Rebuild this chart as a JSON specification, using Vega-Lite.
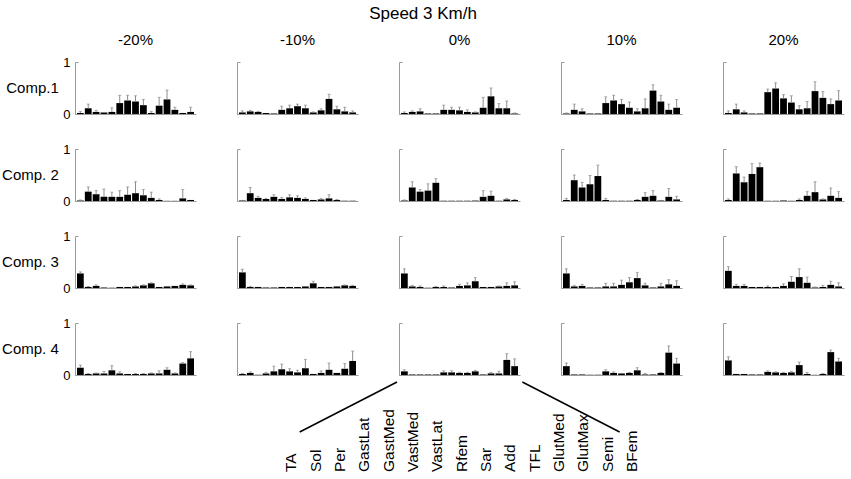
{
  "$schema": "https://vega.github.io/schema/vega-lite/v6.json",
  "padding": {"left": 2, "top": 5, "right": 2, "bottom": 2},
  "title": {"text": "Speed 3 Km/h", "fontSize": 17, "fontWeight": "normal", "anchor": "middle", "offset": 10, "color": "black"},
  "datasets": {
    "bars": [
      {"c":"Comp.1","k":"-20%","m":"TA","v":0.02,"h":0.05},{"c":"Comp.1","k":"-20%","m":"Sol","v":0.11,"h":0.19},{"c":"Comp.1","k":"-20%","m":"Per","v":0.04,"h":0.07},{"c":"Comp.1","k":"-20%","m":"GastLat","v":0.03,"h":0.03},{"c":"Comp.1","k":"-20%","m":"GastMed","v":0.04,"h":0.12},{"c":"Comp.1","k":"-20%","m":"VastMed","v":0.21,"h":0.36},{"c":"Comp.1","k":"-20%","m":"VastLat","v":0.26,"h":0.36},{"c":"Comp.1","k":"-20%","m":"Rfem","v":0.24,"h":0.35},{"c":"Comp.1","k":"-20%","m":"Sar","v":0.17,"h":0.28},{"c":"Comp.1","k":"-20%","m":"Add","v":0.02,"h":0.05},{"c":"Comp.1","k":"-20%","m":"TFL","v":0.16,"h":0.32},{"c":"Comp.1","k":"-20%","m":"GlutMed","v":0.28,"h":0.46},{"c":"Comp.1","k":"-20%","m":"GlutMax","v":0.08,"h":0.13},{"c":"Comp.1","k":"-20%","m":"Semi","v":0.02,"h":0.02},{"c":"Comp.1","k":"-20%","m":"BFem","v":0.04,"h":0.13},
      {"c":"Comp.1","k":"-10%","m":"TA","v":0.03,"h":0.06},{"c":"Comp.1","k":"-10%","m":"Sol","v":0.05,"h":0.07},{"c":"Comp.1","k":"-10%","m":"Per","v":0.04,"h":0.05},{"c":"Comp.1","k":"-10%","m":"GastLat","v":0.02,"h":0.02},{"c":"Comp.1","k":"-10%","m":"GastMed","v":0.01,"h":0.01},{"c":"Comp.1","k":"-10%","m":"VastMed","v":0.08,"h":0.15},{"c":"Comp.1","k":"-10%","m":"VastLat","v":0.11,"h":0.17},{"c":"Comp.1","k":"-10%","m":"Rfem","v":0.15,"h":0.19},{"c":"Comp.1","k":"-10%","m":"Sar","v":0.11,"h":0.17},{"c":"Comp.1","k":"-10%","m":"Add","v":0.03,"h":0.04},{"c":"Comp.1","k":"-10%","m":"TFL","v":0.07,"h":0.1},{"c":"Comp.1","k":"-10%","m":"GlutMed","v":0.29,"h":0.38},{"c":"Comp.1","k":"-10%","m":"GlutMax","v":0.09,"h":0.15},{"c":"Comp.1","k":"-10%","m":"Semi","v":0.05,"h":0.13},{"c":"Comp.1","k":"-10%","m":"BFem","v":0.03,"h":0.06},
      {"c":"Comp.1","k":"0%","m":"TA","v":0.02,"h":0.04},{"c":"Comp.1","k":"0%","m":"Sol","v":0.04,"h":0.06},{"c":"Comp.1","k":"0%","m":"Per","v":0.05,"h":0.1},{"c":"Comp.1","k":"0%","m":"GastLat","v":0.01,"h":0.01},{"c":"Comp.1","k":"0%","m":"GastMed","v":0.01,"h":0.01},{"c":"Comp.1","k":"0%","m":"VastMed","v":0.08,"h":0.17},{"c":"Comp.1","k":"0%","m":"VastLat","v":0.08,"h":0.13},{"c":"Comp.1","k":"0%","m":"Rfem","v":0.07,"h":0.13},{"c":"Comp.1","k":"0%","m":"Sar","v":0.04,"h":0.08},{"c":"Comp.1","k":"0%","m":"Add","v":0.03,"h":0.04},{"c":"Comp.1","k":"0%","m":"TFL","v":0.12,"h":0.32},{"c":"Comp.1","k":"0%","m":"GlutMed","v":0.34,"h":0.5},{"c":"Comp.1","k":"0%","m":"GlutMax","v":0.11,"h":0.2},{"c":"Comp.1","k":"0%","m":"Semi","v":0.11,"h":0.25},{"c":"Comp.1","k":"0%","m":"BFem","v":0.01,"h":0.02},
      {"c":"Comp.1","k":"10%","m":"TA","v":0.01,"h":0.02},{"c":"Comp.1","k":"10%","m":"Sol","v":0.08,"h":0.19},{"c":"Comp.1","k":"10%","m":"Per","v":0.05,"h":0.1},{"c":"Comp.1","k":"10%","m":"GastLat","v":0.01,"h":0.01},{"c":"Comp.1","k":"10%","m":"GastMed","v":0.01,"h":0.01},{"c":"Comp.1","k":"10%","m":"VastMed","v":0.21,"h":0.33},{"c":"Comp.1","k":"10%","m":"VastLat","v":0.26,"h":0.36},{"c":"Comp.1","k":"10%","m":"Rfem","v":0.19,"h":0.28},{"c":"Comp.1","k":"10%","m":"Sar","v":0.12,"h":0.23},{"c":"Comp.1","k":"10%","m":"Add","v":0.05,"h":0.1},{"c":"Comp.1","k":"10%","m":"TFL","v":0.11,"h":0.29},{"c":"Comp.1","k":"10%","m":"GlutMed","v":0.45,"h":0.56},{"c":"Comp.1","k":"10%","m":"GlutMax","v":0.24,"h":0.36},{"c":"Comp.1","k":"10%","m":"Semi","v":0.08,"h":0.19},{"c":"Comp.1","k":"10%","m":"BFem","v":0.12,"h":0.28},
      {"c":"Comp.1","k":"20%","m":"TA","v":0.02,"h":0.06},{"c":"Comp.1","k":"20%","m":"Sol","v":0.09,"h":0.19},{"c":"Comp.1","k":"20%","m":"Per","v":0.03,"h":0.06},{"c":"Comp.1","k":"20%","m":"GastLat","v":0.01,"h":0.01},{"c":"Comp.1","k":"20%","m":"GastMed","v":0.01,"h":0.01},{"c":"Comp.1","k":"20%","m":"VastMed","v":0.42,"h":0.48},{"c":"Comp.1","k":"20%","m":"VastLat","v":0.49,"h":0.6},{"c":"Comp.1","k":"20%","m":"Rfem","v":0.3,"h":0.37},{"c":"Comp.1","k":"20%","m":"Sar","v":0.22,"h":0.35},{"c":"Comp.1","k":"20%","m":"Add","v":0.09,"h":0.16},{"c":"Comp.1","k":"20%","m":"TFL","v":0.11,"h":0.24},{"c":"Comp.1","k":"20%","m":"GlutMed","v":0.44,"h":0.62},{"c":"Comp.1","k":"20%","m":"GlutMax","v":0.31,"h":0.43},{"c":"Comp.1","k":"20%","m":"Semi","v":0.19,"h":0.29},{"c":"Comp.1","k":"20%","m":"BFem","v":0.26,"h":0.45},
      {"c":"Comp. 2","k":"-20%","m":"TA","v":0.01,"h":0.02},{"c":"Comp. 2","k":"-20%","m":"Sol","v":0.18,"h":0.27},{"c":"Comp. 2","k":"-20%","m":"Per","v":0.13,"h":0.2},{"c":"Comp. 2","k":"-20%","m":"GastLat","v":0.08,"h":0.23},{"c":"Comp. 2","k":"-20%","m":"GastMed","v":0.08,"h":0.17},{"c":"Comp. 2","k":"-20%","m":"VastMed","v":0.08,"h":0.2},{"c":"Comp. 2","k":"-20%","m":"VastLat","v":0.12,"h":0.27},{"c":"Comp. 2","k":"-20%","m":"Rfem","v":0.15,"h":0.37},{"c":"Comp. 2","k":"-20%","m":"Sar","v":0.11,"h":0.22},{"c":"Comp. 2","k":"-20%","m":"Add","v":0.06,"h":0.17},{"c":"Comp. 2","k":"-20%","m":"TFL","v":0.02,"h":0.04},{"c":"Comp. 2","k":"-20%","m":"GlutMed","v":0.003,"h":0.003},{"c":"Comp. 2","k":"-20%","m":"GlutMax","v":0.003,"h":0.003},{"c":"Comp. 2","k":"-20%","m":"Semi","v":0.05,"h":0.22},{"c":"Comp. 2","k":"-20%","m":"BFem","v":0.02,"h":0.02},
      {"c":"Comp. 2","k":"-10%","m":"TA","v":0.01,"h":0.01},{"c":"Comp. 2","k":"-10%","m":"Sol","v":0.15,"h":0.26},{"c":"Comp. 2","k":"-10%","m":"Per","v":0.06,"h":0.09},{"c":"Comp. 2","k":"-10%","m":"GastLat","v":0.04,"h":0.05},{"c":"Comp. 2","k":"-10%","m":"GastMed","v":0.08,"h":0.12},{"c":"Comp. 2","k":"-10%","m":"VastMed","v":0.04,"h":0.07},{"c":"Comp. 2","k":"-10%","m":"VastLat","v":0.07,"h":0.12},{"c":"Comp. 2","k":"-10%","m":"Rfem","v":0.06,"h":0.1},{"c":"Comp. 2","k":"-10%","m":"Sar","v":0.04,"h":0.06},{"c":"Comp. 2","k":"-10%","m":"Add","v":0.02,"h":0.02},{"c":"Comp. 2","k":"-10%","m":"TFL","v":0.03,"h":0.05},{"c":"Comp. 2","k":"-10%","m":"GlutMed","v":0.05,"h":0.12},{"c":"Comp. 2","k":"-10%","m":"GlutMax","v":0.02,"h":0.03},{"c":"Comp. 2","k":"-10%","m":"Semi","v":0.005,"h":0.005},{"c":"Comp. 2","k":"-10%","m":"BFem","v":0.005,"h":0.005},
      {"c":"Comp. 2","k":"0%","m":"TA","v":0.01,"h":0.02},{"c":"Comp. 2","k":"0%","m":"Sol","v":0.26,"h":0.37},{"c":"Comp. 2","k":"0%","m":"Per","v":0.18,"h":0.22},{"c":"Comp. 2","k":"0%","m":"GastLat","v":0.2,"h":0.33},{"c":"Comp. 2","k":"0%","m":"GastMed","v":0.35,"h":0.43},{"c":"Comp. 2","k":"0%","m":"VastMed","v":0.005,"h":0.005},{"c":"Comp. 2","k":"0%","m":"VastLat","v":0.005,"h":0.005},{"c":"Comp. 2","k":"0%","m":"Rfem","v":0.005,"h":0.005},{"c":"Comp. 2","k":"0%","m":"Sar","v":0.005,"h":0.005},{"c":"Comp. 2","k":"0%","m":"Add","v":0.008,"h":0.008},{"c":"Comp. 2","k":"0%","m":"TFL","v":0.08,"h":0.2},{"c":"Comp. 2","k":"0%","m":"GlutMed","v":0.1,"h":0.19},{"c":"Comp. 2","k":"0%","m":"GlutMax","v":0.005,"h":0.005},{"c":"Comp. 2","k":"0%","m":"Semi","v":0.03,"h":0.05},{"c":"Comp. 2","k":"0%","m":"BFem","v":0.02,"h":0.03},
      {"c":"Comp. 2","k":"10%","m":"TA","v":0.02,"h":0.05},{"c":"Comp. 2","k":"10%","m":"Sol","v":0.4,"h":0.5},{"c":"Comp. 2","k":"10%","m":"Per","v":0.26,"h":0.36},{"c":"Comp. 2","k":"10%","m":"GastLat","v":0.32,"h":0.49},{"c":"Comp. 2","k":"10%","m":"GastMed","v":0.48,"h":0.69},{"c":"Comp. 2","k":"10%","m":"VastMed","v":0.02,"h":0.05},{"c":"Comp. 2","k":"10%","m":"VastLat","v":0.005,"h":0.005},{"c":"Comp. 2","k":"10%","m":"Rfem","v":0.005,"h":0.005},{"c":"Comp. 2","k":"10%","m":"Sar","v":0.005,"h":0.005},{"c":"Comp. 2","k":"10%","m":"Add","v":0.02,"h":0.03},{"c":"Comp. 2","k":"10%","m":"TFL","v":0.08,"h":0.16},{"c":"Comp. 2","k":"10%","m":"GlutMed","v":0.1,"h":0.2},{"c":"Comp. 2","k":"10%","m":"GlutMax","v":0.01,"h":0.01},{"c":"Comp. 2","k":"10%","m":"Semi","v":0.08,"h":0.24},{"c":"Comp. 2","k":"10%","m":"BFem","v":0.03,"h":0.09},
      {"c":"Comp. 2","k":"20%","m":"TA","v":0.02,"h":0.04},{"c":"Comp. 2","k":"20%","m":"Sol","v":0.53,"h":0.66},{"c":"Comp. 2","k":"20%","m":"Per","v":0.36,"h":0.46},{"c":"Comp. 2","k":"20%","m":"GastLat","v":0.52,"h":0.72},{"c":"Comp. 2","k":"20%","m":"GastMed","v":0.65,"h":0.73},{"c":"Comp. 2","k":"20%","m":"VastMed","v":0.004,"h":0.004},{"c":"Comp. 2","k":"20%","m":"VastLat","v":0.004,"h":0.004},{"c":"Comp. 2","k":"20%","m":"Rfem","v":0.01,"h":0.01},{"c":"Comp. 2","k":"20%","m":"Sar","v":0.004,"h":0.004},{"c":"Comp. 2","k":"20%","m":"Add","v":0.02,"h":0.04},{"c":"Comp. 2","k":"20%","m":"TFL","v":0.1,"h":0.18},{"c":"Comp. 2","k":"20%","m":"GlutMed","v":0.17,"h":0.37},{"c":"Comp. 2","k":"20%","m":"GlutMax","v":0.03,"h":0.04},{"c":"Comp. 2","k":"20%","m":"Semi","v":0.1,"h":0.25},{"c":"Comp. 2","k":"20%","m":"BFem","v":0.06,"h":0.18},
      {"c":"Comp. 3","k":"-20%","m":"TA","v":0.28,"h":0.31},{"c":"Comp. 3","k":"-20%","m":"Sol","v":0.02,"h":0.03},{"c":"Comp. 3","k":"-20%","m":"Per","v":0.04,"h":0.06},{"c":"Comp. 3","k":"-20%","m":"GastLat","v":0.01,"h":0.01},{"c":"Comp. 3","k":"-20%","m":"GastMed","v":0.005,"h":0.005},{"c":"Comp. 3","k":"-20%","m":"VastMed","v":0.02,"h":0.02},{"c":"Comp. 3","k":"-20%","m":"VastLat","v":0.02,"h":0.02},{"c":"Comp. 3","k":"-20%","m":"Rfem","v":0.03,"h":0.04},{"c":"Comp. 3","k":"-20%","m":"Sar","v":0.05,"h":0.06},{"c":"Comp. 3","k":"-20%","m":"Add","v":0.09,"h":0.1},{"c":"Comp. 3","k":"-20%","m":"TFL","v":0.02,"h":0.02},{"c":"Comp. 3","k":"-20%","m":"GlutMed","v":0.03,"h":0.03},{"c":"Comp. 3","k":"-20%","m":"GlutMax","v":0.04,"h":0.04},{"c":"Comp. 3","k":"-20%","m":"Semi","v":0.06,"h":0.08},{"c":"Comp. 3","k":"-20%","m":"BFem","v":0.05,"h":0.06},
      {"c":"Comp. 3","k":"-10%","m":"TA","v":0.3,"h":0.36},{"c":"Comp. 3","k":"-10%","m":"Sol","v":0.02,"h":0.03},{"c":"Comp. 3","k":"-10%","m":"Per","v":0.02,"h":0.02},{"c":"Comp. 3","k":"-10%","m":"GastLat","v":0.01,"h":0.01},{"c":"Comp. 3","k":"-10%","m":"GastMed","v":0.01,"h":0.01},{"c":"Comp. 3","k":"-10%","m":"VastMed","v":0.02,"h":0.02},{"c":"Comp. 3","k":"-10%","m":"VastLat","v":0.02,"h":0.02},{"c":"Comp. 3","k":"-10%","m":"Rfem","v":0.02,"h":0.02},{"c":"Comp. 3","k":"-10%","m":"Sar","v":0.03,"h":0.03},{"c":"Comp. 3","k":"-10%","m":"Add","v":0.09,"h":0.13},{"c":"Comp. 3","k":"-10%","m":"TFL","v":0.02,"h":0.02},{"c":"Comp. 3","k":"-10%","m":"GlutMed","v":0.02,"h":0.02},{"c":"Comp. 3","k":"-10%","m":"GlutMax","v":0.03,"h":0.03},{"c":"Comp. 3","k":"-10%","m":"Semi","v":0.05,"h":0.06},{"c":"Comp. 3","k":"-10%","m":"BFem","v":0.04,"h":0.05},
      {"c":"Comp. 3","k":"0%","m":"TA","v":0.28,"h":0.37},{"c":"Comp. 3","k":"0%","m":"Sol","v":0.03,"h":0.05},{"c":"Comp. 3","k":"0%","m":"Per","v":0.02,"h":0.04},{"c":"Comp. 3","k":"0%","m":"GastLat","v":0.005,"h":0.005},{"c":"Comp. 3","k":"0%","m":"GastMed","v":0.02,"h":0.03},{"c":"Comp. 3","k":"0%","m":"VastMed","v":0.02,"h":0.04},{"c":"Comp. 3","k":"0%","m":"VastLat","v":0.01,"h":0.01},{"c":"Comp. 3","k":"0%","m":"Rfem","v":0.04,"h":0.07},{"c":"Comp. 3","k":"0%","m":"Sar","v":0.05,"h":0.1},{"c":"Comp. 3","k":"0%","m":"Add","v":0.13,"h":0.2},{"c":"Comp. 3","k":"0%","m":"TFL","v":0.02,"h":0.02},{"c":"Comp. 3","k":"0%","m":"GlutMed","v":0.02,"h":0.02},{"c":"Comp. 3","k":"0%","m":"GlutMax","v":0.03,"h":0.04},{"c":"Comp. 3","k":"0%","m":"Semi","v":0.04,"h":0.1},{"c":"Comp. 3","k":"0%","m":"BFem","v":0.05,"h":0.12},
      {"c":"Comp. 3","k":"10%","m":"TA","v":0.28,"h":0.37},{"c":"Comp. 3","k":"10%","m":"Sol","v":0.03,"h":0.05},{"c":"Comp. 3","k":"10%","m":"Per","v":0.04,"h":0.07},{"c":"Comp. 3","k":"10%","m":"GastLat","v":0.01,"h":0.01},{"c":"Comp. 3","k":"10%","m":"GastMed","v":0.01,"h":0.01},{"c":"Comp. 3","k":"10%","m":"VastMed","v":0.03,"h":0.09},{"c":"Comp. 3","k":"10%","m":"VastLat","v":0.03,"h":0.09},{"c":"Comp. 3","k":"10%","m":"Rfem","v":0.06,"h":0.15},{"c":"Comp. 3","k":"10%","m":"Sar","v":0.11,"h":0.2},{"c":"Comp. 3","k":"10%","m":"Add","v":0.19,"h":0.3},{"c":"Comp. 3","k":"10%","m":"TFL","v":0.05,"h":0.09},{"c":"Comp. 3","k":"10%","m":"GlutMed","v":0.01,"h":0.01},{"c":"Comp. 3","k":"10%","m":"GlutMax","v":0.03,"h":0.09},{"c":"Comp. 3","k":"10%","m":"Semi","v":0.07,"h":0.16},{"c":"Comp. 3","k":"10%","m":"BFem","v":0.04,"h":0.14},
      {"c":"Comp. 3","k":"20%","m":"TA","v":0.33,"h":0.41},{"c":"Comp. 3","k":"20%","m":"Sol","v":0.04,"h":0.07},{"c":"Comp. 3","k":"20%","m":"Per","v":0.04,"h":0.07},{"c":"Comp. 3","k":"20%","m":"GastLat","v":0.02,"h":0.02},{"c":"Comp. 3","k":"20%","m":"GastMed","v":0.02,"h":0.02},{"c":"Comp. 3","k":"20%","m":"VastMed","v":0.02,"h":0.04},{"c":"Comp. 3","k":"20%","m":"VastLat","v":0.02,"h":0.02},{"c":"Comp. 3","k":"20%","m":"Rfem","v":0.04,"h":0.08},{"c":"Comp. 3","k":"20%","m":"Sar","v":0.12,"h":0.22},{"c":"Comp. 3","k":"20%","m":"Add","v":0.21,"h":0.37},{"c":"Comp. 3","k":"20%","m":"TFL","v":0.1,"h":0.21},{"c":"Comp. 3","k":"20%","m":"GlutMed","v":0.01,"h":0.02},{"c":"Comp. 3","k":"20%","m":"GlutMax","v":0.02,"h":0.05},{"c":"Comp. 3","k":"20%","m":"Semi","v":0.06,"h":0.13},{"c":"Comp. 3","k":"20%","m":"BFem","v":0.03,"h":0.1},
      {"c":"Comp. 4","k":"-20%","m":"TA","v":0.14,"h":0.19},{"c":"Comp. 4","k":"-20%","m":"Sol","v":0.02,"h":0.03},{"c":"Comp. 4","k":"-20%","m":"Per","v":0.03,"h":0.04},{"c":"Comp. 4","k":"-20%","m":"GastLat","v":0.03,"h":0.07},{"c":"Comp. 4","k":"-20%","m":"GastMed","v":0.09,"h":0.18},{"c":"Comp. 4","k":"-20%","m":"VastMed","v":0.03,"h":0.06},{"c":"Comp. 4","k":"-20%","m":"VastLat","v":0.02,"h":0.02},{"c":"Comp. 4","k":"-20%","m":"Rfem","v":0.02,"h":0.03},{"c":"Comp. 4","k":"-20%","m":"Sar","v":0.02,"h":0.03},{"c":"Comp. 4","k":"-20%","m":"Add","v":0.03,"h":0.04},{"c":"Comp. 4","k":"-20%","m":"TFL","v":0.03,"h":0.08},{"c":"Comp. 4","k":"-20%","m":"GlutMed","v":0.1,"h":0.14},{"c":"Comp. 4","k":"-20%","m":"GlutMax","v":0.03,"h":0.04},{"c":"Comp. 4","k":"-20%","m":"Semi","v":0.22,"h":0.24},{"c":"Comp. 4","k":"-20%","m":"BFem","v":0.32,"h":0.45},
      {"c":"Comp. 4","k":"-10%","m":"TA","v":0.02,"h":0.03},{"c":"Comp. 4","k":"-10%","m":"Sol","v":0.04,"h":0.06},{"c":"Comp. 4","k":"-10%","m":"Per","v":0.005,"h":0.005},{"c":"Comp. 4","k":"-10%","m":"GastLat","v":0.03,"h":0.05},{"c":"Comp. 4","k":"-10%","m":"GastMed","v":0.07,"h":0.17},{"c":"Comp. 4","k":"-10%","m":"VastMed","v":0.11,"h":0.21},{"c":"Comp. 4","k":"-10%","m":"VastLat","v":0.07,"h":0.12},{"c":"Comp. 4","k":"-10%","m":"Rfem","v":0.05,"h":0.09},{"c":"Comp. 4","k":"-10%","m":"Sar","v":0.13,"h":0.3},{"c":"Comp. 4","k":"-10%","m":"Add","v":0.02,"h":0.02},{"c":"Comp. 4","k":"-10%","m":"TFL","v":0.04,"h":0.08},{"c":"Comp. 4","k":"-10%","m":"GlutMed","v":0.1,"h":0.23},{"c":"Comp. 4","k":"-10%","m":"GlutMax","v":0.04,"h":0.04},{"c":"Comp. 4","k":"-10%","m":"Semi","v":0.12,"h":0.22},{"c":"Comp. 4","k":"-10%","m":"BFem","v":0.27,"h":0.46},
      {"c":"Comp. 4","k":"0%","m":"TA","v":0.07,"h":0.1},{"c":"Comp. 4","k":"0%","m":"Sol","v":0.01,"h":0.01},{"c":"Comp. 4","k":"0%","m":"Per","v":0.01,"h":0.01},{"c":"Comp. 4","k":"0%","m":"GastLat","v":0.01,"h":0.01},{"c":"Comp. 4","k":"0%","m":"GastMed","v":0.01,"h":0.01},{"c":"Comp. 4","k":"0%","m":"VastMed","v":0.05,"h":0.08},{"c":"Comp. 4","k":"0%","m":"VastLat","v":0.05,"h":0.08},{"c":"Comp. 4","k":"0%","m":"Rfem","v":0.04,"h":0.05},{"c":"Comp. 4","k":"0%","m":"Sar","v":0.04,"h":0.05},{"c":"Comp. 4","k":"0%","m":"Add","v":0.07,"h":0.09},{"c":"Comp. 4","k":"0%","m":"TFL","v":0.01,"h":0.01},{"c":"Comp. 4","k":"0%","m":"GlutMed","v":0.03,"h":0.05},{"c":"Comp. 4","k":"0%","m":"GlutMax","v":0.03,"h":0.07},{"c":"Comp. 4","k":"0%","m":"Semi","v":0.29,"h":0.41},{"c":"Comp. 4","k":"0%","m":"BFem","v":0.17,"h":0.31},
      {"c":"Comp. 4","k":"10%","m":"TA","v":0.17,"h":0.23},{"c":"Comp. 4","k":"10%","m":"Sol","v":0.01,"h":0.01},{"c":"Comp. 4","k":"10%","m":"Per","v":0.01,"h":0.01},{"c":"Comp. 4","k":"10%","m":"GastLat","v":0.005,"h":0.005},{"c":"Comp. 4","k":"10%","m":"GastMed","v":0.005,"h":0.005},{"c":"Comp. 4","k":"10%","m":"VastMed","v":0.07,"h":0.1},{"c":"Comp. 4","k":"10%","m":"VastLat","v":0.04,"h":0.06},{"c":"Comp. 4","k":"10%","m":"Rfem","v":0.03,"h":0.03},{"c":"Comp. 4","k":"10%","m":"Sar","v":0.04,"h":0.05},{"c":"Comp. 4","k":"10%","m":"Add","v":0.09,"h":0.14},{"c":"Comp. 4","k":"10%","m":"TFL","v":0.01,"h":0.03},{"c":"Comp. 4","k":"10%","m":"GlutMed","v":0.01,"h":0.01},{"c":"Comp. 4","k":"10%","m":"GlutMax","v":0.04,"h":0.05},{"c":"Comp. 4","k":"10%","m":"Semi","v":0.43,"h":0.56},{"c":"Comp. 4","k":"10%","m":"BFem","v":0.22,"h":0.32},
      {"c":"Comp. 4","k":"20%","m":"TA","v":0.28,"h":0.35},{"c":"Comp. 4","k":"20%","m":"Sol","v":0.02,"h":0.02},{"c":"Comp. 4","k":"20%","m":"Per","v":0.02,"h":0.02},{"c":"Comp. 4","k":"20%","m":"GastLat","v":0.01,"h":0.01},{"c":"Comp. 4","k":"20%","m":"GastMed","v":0.01,"h":0.01},{"c":"Comp. 4","k":"20%","m":"VastMed","v":0.06,"h":0.08},{"c":"Comp. 4","k":"20%","m":"VastLat","v":0.05,"h":0.06},{"c":"Comp. 4","k":"20%","m":"Rfem","v":0.04,"h":0.05},{"c":"Comp. 4","k":"20%","m":"Sar","v":0.05,"h":0.07},{"c":"Comp. 4","k":"20%","m":"Add","v":0.19,"h":0.25},{"c":"Comp. 4","k":"20%","m":"TFL","v":0.02,"h":0.05},{"c":"Comp. 4","k":"20%","m":"GlutMed","v":0.003,"h":0.003},{"c":"Comp. 4","k":"20%","m":"GlutMax","v":0.02,"h":0.03},{"c":"Comp. 4","k":"20%","m":"Semi","v":0.44,"h":0.48},{"c":"Comp. 4","k":"20%","m":"BFem","v":0.26,"h":0.32}
    ],
    "muscles": [
      {"m":"TA"},{"m":"Sol"},{"m":"Per"},{"m":"GastLat"},{"m":"GastMed"},{"m":"VastMed"},{"m":"VastLat"},{"m":"Rfem"},{"m":"Sar"},{"m":"Add"},{"m":"TFL"},{"m":"GlutMed"},{"m":"GlutMax"},{"m":"Semi"},{"m":"BFem"}
    ]
  },
  "vconcat": [
    {
      "hconcat": [
        {
          "data": {"name": "bars"},
          "transform": [{"filter": "datum.k == '-20%'"}],
          "facet": {
            "row": {"field": "c", "type": "nominal", "sort": ["Comp.1", "Comp. 2", "Comp. 3", "Comp. 4"], "title": null,
              "header": {"labelAngle": 0, "labelAlign": "left", "labelBaseline": "middle", "labelFontSize": 15, "labelPadding": 4, "labelColor": "black", "labelFont": "Liberation Sans"}},
            "column": {"field": "k", "type": "nominal", "title": null,
              "header": {"labelFontSize": 15, "labelPadding": 14, "labelColor": "black", "labelFont": "Liberation Sans"}}
          },
          "spacing": {"row": 35},
          "resolve": {"axis": {"x": "independent"}},
          "spec": {
            "width": 121, "height": 52,
            "encoding": {
              "x": {"field": "m", "type": "nominal", "sort": ["TA","Sol","Per","GastLat","GastMed","VastMed","VastLat","Rfem","Sar","Add","TFL","GlutMed","GlutMax","Semi","BFem"],
                "scale": {"paddingInner": 0.14, "paddingOuter": 0.25},
                "axis": {"labels": false, "ticks": false, "title": null, "domainColor": "#9a9a9a"}}
            },
            "layer": [
              {"mark": {"type": "bar", "color": "black"},
               "encoding": {"y": {"field": "v", "type": "quantitative", "scale": {"domain": [0, 1]},
                 "axis": {"values": [0, 0.5, 1], "format": "d", "labelExpr": "datum.value == 0.5 ? '' : datum.label", "title": null, "grid": false, "tickSize": -3, "labelPadding": 8, "labelFontSize": 13, "labelColor": "black", "domainColor": "#9a9a9a", "tickColor": "#9a9a9a"}}}},
              {"transform": [{"filter": "datum.h > datum.v"}], "mark": {"type": "rule", "color": "#8c8c8c", "strokeWidth": 1},
               "encoding": {"y": {"field": "v", "type": "quantitative"}, "y2": {"field": "h"}}},
              {"transform": [{"filter": "datum.h > datum.v"}], "mark": {"type": "tick", "color": "#8c8c8c", "size": 3, "thickness": 1},
               "encoding": {"y": {"field": "h", "type": "quantitative"}}}
            ]
          }
        },
        {
          "data": {"name": "bars"},
          "transform": [{"filter": "datum.k == '-10%'"}],
          "facet": {
            "row": {"field": "c", "type": "nominal", "sort": ["Comp.1", "Comp. 2", "Comp. 3", "Comp. 4"], "title": null, "header": {"labels": false}},
            "column": {"field": "k", "type": "nominal", "title": null,
              "header": {"labelFontSize": 15, "labelPadding": 14, "labelColor": "black", "labelFont": "Liberation Sans"}}
          },
          "spacing": {"row": 35},
          "resolve": {"axis": {"x": "independent"}},
          "spec": {
            "width": 121, "height": 52,
            "encoding": {
              "x": {"field": "m", "type": "nominal", "sort": ["TA","Sol","Per","GastLat","GastMed","VastMed","VastLat","Rfem","Sar","Add","TFL","GlutMed","GlutMax","Semi","BFem"],
                "scale": {"paddingInner": 0.14, "paddingOuter": 0.25},
                "axis": {"labels": false, "ticks": false, "title": null, "domainColor": "#9a9a9a"}}
            },
            "layer": [
              {"mark": {"type": "bar", "color": "black"},
               "encoding": {"y": {"field": "v", "type": "quantitative", "scale": {"domain": [0, 1]},
                 "axis": {"values": [0, 0.5, 1], "labels": false, "title": null, "grid": false, "tickSize": -3, "domainColor": "#9a9a9a", "tickColor": "#9a9a9a"}}}},
              {"transform": [{"filter": "datum.h > datum.v"}], "mark": {"type": "rule", "color": "#8c8c8c", "strokeWidth": 1},
               "encoding": {"y": {"field": "v", "type": "quantitative"}, "y2": {"field": "h"}}},
              {"transform": [{"filter": "datum.h > datum.v"}], "mark": {"type": "tick", "color": "#8c8c8c", "size": 3, "thickness": 1},
               "encoding": {"y": {"field": "h", "type": "quantitative"}}}
            ]
          }
        },
        {
          "data": {"name": "bars"},
          "transform": [{"filter": "datum.k == '0%'"}],
          "facet": {
            "row": {"field": "c", "type": "nominal", "sort": ["Comp.1", "Comp. 2", "Comp. 3", "Comp. 4"], "title": null, "header": {"labels": false}},
            "column": {"field": "k", "type": "nominal", "title": null,
              "header": {"labelFontSize": 15, "labelPadding": 14, "labelColor": "black", "labelFont": "Liberation Sans"}}
          },
          "spacing": {"row": 35},
          "resolve": {"axis": {"x": "independent"}},
          "spec": {
            "width": 121, "height": 52,
            "encoding": {
              "x": {"field": "m", "type": "nominal", "sort": ["TA","Sol","Per","GastLat","GastMed","VastMed","VastLat","Rfem","Sar","Add","TFL","GlutMed","GlutMax","Semi","BFem"],
                "scale": {"paddingInner": 0.14, "paddingOuter": 0.25},
                "axis": {"labels": false, "ticks": false, "title": null, "domainColor": "#9a9a9a"}}
            },
            "layer": [
              {"mark": {"type": "bar", "color": "black"},
               "encoding": {"y": {"field": "v", "type": "quantitative", "scale": {"domain": [0, 1]},
                 "axis": {"values": [0, 0.5, 1], "labels": false, "title": null, "grid": false, "tickSize": -3, "domainColor": "#9a9a9a", "tickColor": "#9a9a9a"}}}},
              {"transform": [{"filter": "datum.h > datum.v"}], "mark": {"type": "rule", "color": "#8c8c8c", "strokeWidth": 1},
               "encoding": {"y": {"field": "v", "type": "quantitative"}, "y2": {"field": "h"}}},
              {"transform": [{"filter": "datum.h > datum.v"}], "mark": {"type": "tick", "color": "#8c8c8c", "size": 3, "thickness": 1},
               "encoding": {"y": {"field": "h", "type": "quantitative"}}}
            ]
          }
        },
        {
          "data": {"name": "bars"},
          "transform": [{"filter": "datum.k == '10%'"}],
          "facet": {
            "row": {"field": "c", "type": "nominal", "sort": ["Comp.1", "Comp. 2", "Comp. 3", "Comp. 4"], "title": null, "header": {"labels": false}},
            "column": {"field": "k", "type": "nominal", "title": null,
              "header": {"labelFontSize": 15, "labelPadding": 14, "labelColor": "black", "labelFont": "Liberation Sans"}}
          },
          "spacing": {"row": 35},
          "resolve": {"axis": {"x": "independent"}},
          "spec": {
            "width": 121, "height": 52,
            "encoding": {
              "x": {"field": "m", "type": "nominal", "sort": ["TA","Sol","Per","GastLat","GastMed","VastMed","VastLat","Rfem","Sar","Add","TFL","GlutMed","GlutMax","Semi","BFem"],
                "scale": {"paddingInner": 0.14, "paddingOuter": 0.25},
                "axis": {"labels": false, "ticks": false, "title": null, "domainColor": "#9a9a9a"}}
            },
            "layer": [
              {"mark": {"type": "bar", "color": "black"},
               "encoding": {"y": {"field": "v", "type": "quantitative", "scale": {"domain": [0, 1]},
                 "axis": {"values": [0, 0.5, 1], "labels": false, "title": null, "grid": false, "tickSize": -3, "domainColor": "#9a9a9a", "tickColor": "#9a9a9a"}}}},
              {"transform": [{"filter": "datum.h > datum.v"}], "mark": {"type": "rule", "color": "#8c8c8c", "strokeWidth": 1},
               "encoding": {"y": {"field": "v", "type": "quantitative"}, "y2": {"field": "h"}}},
              {"transform": [{"filter": "datum.h > datum.v"}], "mark": {"type": "tick", "color": "#8c8c8c", "size": 3, "thickness": 1},
               "encoding": {"y": {"field": "h", "type": "quantitative"}}}
            ]
          }
        },
        {
          "data": {"name": "bars"},
          "transform": [{"filter": "datum.k == '20%'"}],
          "facet": {
            "row": {"field": "c", "type": "nominal", "sort": ["Comp.1", "Comp. 2", "Comp. 3", "Comp. 4"], "title": null, "header": {"labels": false}},
            "column": {"field": "k", "type": "nominal", "title": null,
              "header": {"labelFontSize": 15, "labelPadding": 14, "labelColor": "black", "labelFont": "Liberation Sans"}}
          },
          "spacing": {"row": 35},
          "resolve": {"axis": {"x": "independent"}},
          "spec": {
            "width": 121, "height": 52,
            "encoding": {
              "x": {"field": "m", "type": "nominal", "sort": ["TA","Sol","Per","GastLat","GastMed","VastMed","VastLat","Rfem","Sar","Add","TFL","GlutMed","GlutMax","Semi","BFem"],
                "scale": {"paddingInner": 0.14, "paddingOuter": 0.25},
                "axis": {"labels": false, "ticks": false, "title": null, "domainColor": "#9a9a9a"}}
            },
            "layer": [
              {"mark": {"type": "bar", "color": "black"},
               "encoding": {"y": {"field": "v", "type": "quantitative", "scale": {"domain": [0, 1]},
                 "axis": {"values": [0, 0.5, 1], "labels": false, "title": null, "grid": false, "tickSize": -3, "domainColor": "#9a9a9a", "tickColor": "#9a9a9a"}}}},
              {"transform": [{"filter": "datum.h > datum.v"}], "mark": {"type": "rule", "color": "#8c8c8c", "strokeWidth": 1},
               "encoding": {"y": {"field": "v", "type": "quantitative"}, "y2": {"field": "h"}}},
              {"transform": [{"filter": "datum.h > datum.v"}], "mark": {"type": "tick", "color": "#8c8c8c", "size": 3, "thickness": 1},
               "encoding": {"y": {"field": "h", "type": "quantitative"}}}
            ]
          }
        }
      ],
      "spacing": 40
    },
    {
      "width": 570,
      "height": 100,
      "layer": [
        {
          "data": {"name": "muscles"},
          "mark": {"type": "text", "angle": 270, "align": "left", "baseline": "middle", "font": "Liberation Sans", "fontSize": 15.5, "color": "black"},
          "encoding": {
            "x": {"field": "m", "type": "nominal",
              "scale": {"type": "band", "domain": ["TA","Sol","Per","GastLat","GastMed","VastMed","VastLat","Rfem","Sar","Add","TFL","GlutMed","GlutMax","Semi","BFem"], "paddingInner": 0, "paddingOuter": 0, "range": [204, 569]},
              "axis": null},
            "y": {"datum": 0.9, "type": "quantitative", "scale": {"domain": [0, 1], "reverse": true}, "axis": null},
            "text": {"field": "m"}
          }
        },
        {
          "data": {"values": [{"m": "GastMed", "d": 0}, {"m": "TA", "d": 0.5}]},
          "mark": {"type": "line", "color": "black", "strokeWidth": 1.5},
          "encoding": {
            "x": {"field": "m", "type": "nominal", "bandPosition": 0.85},
            "y": {"field": "d", "type": "quantitative"}
          }
        },
        {
          "data": {"values": [{"m": "TFL", "d": 0}, {"m": "BFem", "d": 0.5}]},
          "mark": {"type": "line", "color": "black", "strokeWidth": 1.5},
          "encoding": {
            "x": {"field": "m", "type": "nominal", "bandPosition": 0},
            "y": {"field": "d", "type": "quantitative"}
          }
        }
      ]
    }
  ],
  "spacing": -8,
  "config": {
    "font": "Liberation Sans",
    "view": {"stroke": null},
    "axis": {"domainWidth": 1, "tickWidth": 1}
  }
}
